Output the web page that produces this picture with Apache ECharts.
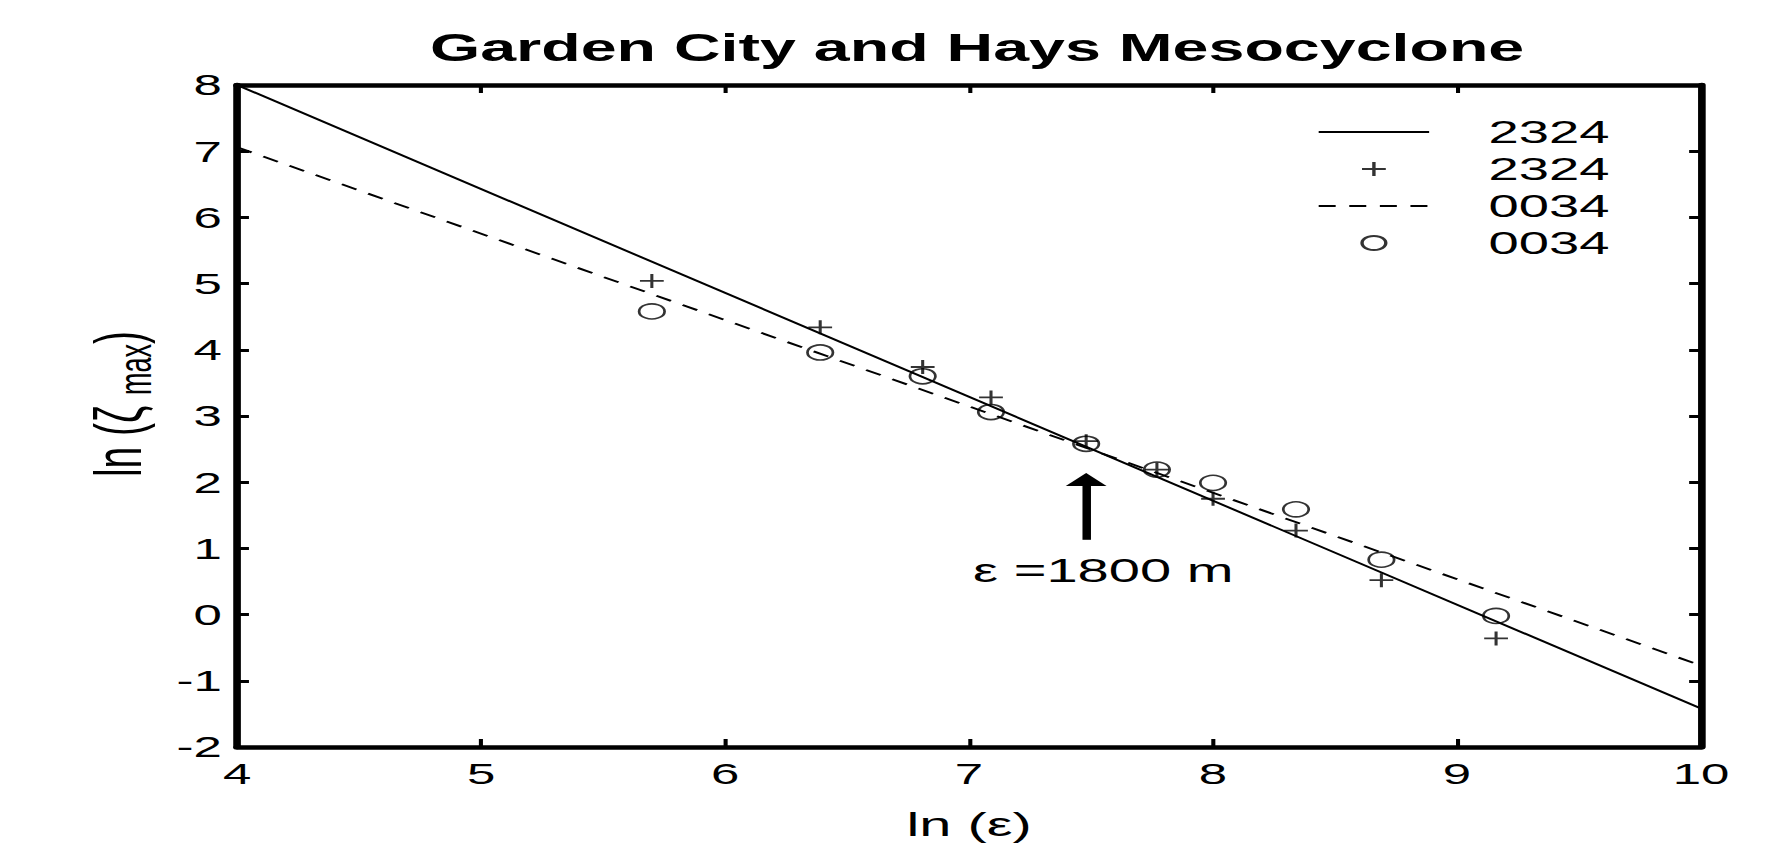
<!DOCTYPE html>
<html><head><meta charset="utf-8">
<script src="https://cdn.jsdelivr.net/npm/echarts@6/dist/echarts.min.js"></script>
<style>
html,body{margin:0;padding:0;background:#fff;overflow:hidden;width:1769px;height:844px;}
#wrap{width:1769px;height:844px;overflow:hidden;}
#chart{width:1041px;height:844px;transform:scaleX(1.69933);transform-origin:0 0;}
</style></head><body><div id="wrap"><div id="chart"></div></div>
<script>
// ---- data ----
const titleText = 'Garden City and Hays Mesocyclone';
const xName = 'ln (ε)';
const xRange = [4, 10];
const yRange = [-2, 8];
const fit2324 = [[4, 8.0], [10, -1.42]];
const fit0034 = [[4, 7.06], [10, -0.77]];
const lnEps   = [5.70, 6.39, 6.81, 7.09, 7.48, 7.77, 8.00, 8.34, 8.69, 9.16];
const obs2324 = [5.04, 4.34, 3.74, 3.28, 2.62, 2.19, 1.75, 1.27, 0.52, -0.36];
const obs0034 = [4.58, 3.96, 3.60, 3.06, 2.58, 2.19, 1.99, 1.59, 0.83, -0.02];
const seriesNames  = ['fit2324', 'obs2324', 'fit0034', 'obs0034'];
const legendLabels = ['2324', '2324', '0034', '0034'];
const arrowX = 7.48;
const arrowY = [1.13, 2.04];
const noteText = 'ε =1800 m';
const notePos = [7.55, 0.67];

// ---- chart ----
const FONT = 'Liberation Sans, Arial, Helvetica, sans-serif';
const labelMap = {};
seriesNames.forEach((n, i) => labelMap[n] = legendLabels[i]);
const pairs = ys => lnEps.map((x, i) => [x, ys[i]]);
const hiddenMarker = {color: 'rgba(0,0,0,0)', borderColor: 'rgba(0,0,0,0)', borderWidth: 0};

const chart = echarts.init(document.getElementById('chart'), null, {renderer: 'svg'});
const axisCommon = {
  type: 'value', min: xRange[0], max: xRange[1], interval: 1,
  axisLine: {show: true, onZero: false, lineStyle: {color: '#000', width: 4.5}},
  axisTick: {show: true, inside: true, length: 8, lineStyle: {color: '#000', width: 2.4}},
  splitLine: {show: false}
};
const yCommon = {
  type: 'value', min: yRange[0], max: yRange[1], interval: 1,
  axisLine: {show: true, onZero: false, lineStyle: {color: '#000', width: 4.5}},
  axisTick: {show: true, inside: true, length: 7, lineStyle: {color: '#000', width: 3}},
  splitLine: {show: false}
};
const option = {
  backgroundColor: '#fff',
  animation: false,
  title: {
    text: titleText, left: 570, top: 24, textAlign: 'center',
    textStyle: {fontFamily: FONT, fontSize: 38, fontWeight: 'bold', color: '#000'}
  },
  grid: {left: 139.5, right: 40, top: 85, bottom: 97, containLabel: false, outerBoundsMode: 'none'},
  legend: {
    orient: 'vertical', left: 775, top: 116, padding: 0, itemGap: 5,
    itemWidth: 65, itemHeight: 14, selectedMode: false,
    data: [
      {name: seriesNames[0], itemStyle: hiddenMarker},
      {name: seriesNames[1]},
      {name: seriesNames[2], itemStyle: hiddenMarker},
      {name: seriesNames[3]}
    ],
    formatter: n => labelMap[n],
    textStyle: {fontFamily: FONT, fontSize: 32, color: '#000', padding: [0, 0, 0, 30]}
  },
  xAxis: [
    Object.assign({}, axisCommon, {
      position: 'bottom', name: xName, nameLocation: 'middle', nameGap: 60,
      nameTextStyle: {fontFamily: FONT, fontSize: 34, color: '#000'},
      axisLabel: {show: true, margin: 12, fontFamily: FONT, fontSize: 30, color: '#000'}
    }),
    Object.assign({}, axisCommon, {position: 'top', axisLabel: {show: false}})
  ],
  yAxis: [
    Object.assign({}, yCommon, {
      position: 'left', name: '{n|ln (ζ }{s|max}{n|)}', nameLocation: 'middle', nameRotate: 90, nameGap: 47,
      nameTextStyle: {
        fontFamily: FONT, color: '#000', padding: [0, 0, 0, 24],
        rich: {
          n: {fontFamily: FONT, fontSize: 39, color: '#000'},
          s: {fontFamily: FONT, fontSize: 27, color: '#000', verticalAlign: 'bottom', padding: [0, 0, -4, 0]}
        }
      },
      axisLabel: {show: true, margin: 9, fontFamily: FONT, fontSize: 30, color: '#000'}
    }),
    Object.assign({}, yCommon, {position: 'right', axisLabel: {show: false}})
  ],
  series: [
    {
      name: seriesNames[0], type: 'line', data: fit2324, symbol: 'none', silent: true,
      itemStyle: {color: '#000'},
      lineStyle: {color: '#000', width: 1.8, type: 'solid'},
      markLine: {
        silent: true, animation: false,
        lineStyle: {color: '#000', width: 5, type: 'solid'},
        label: {show: false},
        data: [[
          {coord: [arrowX, arrowY[0]], symbol: 'none'},
          {coord: [arrowX, arrowY[1]], symbol: 'triangle', symbolSize: [24, 13]}
        ]]
      },
      markPoint: {
        silent: true, animation: false,
        symbol: 'circle', symbolSize: 1, itemStyle: {color: 'rgba(0,0,0,0)'},
        label: {show: true, position: 'inside', formatter: noteText, fontFamily: FONT, fontSize: 33, color: '#000'},
        data: [{coord: notePos}]
      }
    },
    {
      name: seriesNames[1], type: 'scatter', data: pairs(obs2324), silent: true,
      symbol: 'path://M0,5L10,5M5,0L5,10', symbolSize: 14,
      itemStyle: {color: 'rgba(0,0,0,0)', borderColor: '#000', borderWidth: 1.8}
    },
    {
      name: seriesNames[2], type: 'line', data: fit0034, symbol: 'none', silent: true,
      itemStyle: {color: '#000'},
      lineStyle: {color: '#000', width: 1.8, type: [10, 8]}
    },
    {
      name: seriesNames[3], type: 'scatter', data: pairs(obs0034), silent: true,
      symbol: 'circle', symbolSize: 15,
      itemStyle: {color: 'rgba(0,0,0,0)', borderColor: '#000', borderWidth: 1.6}
    }
  ]
};
chart.setOption(option);
</script>
</body></html>
